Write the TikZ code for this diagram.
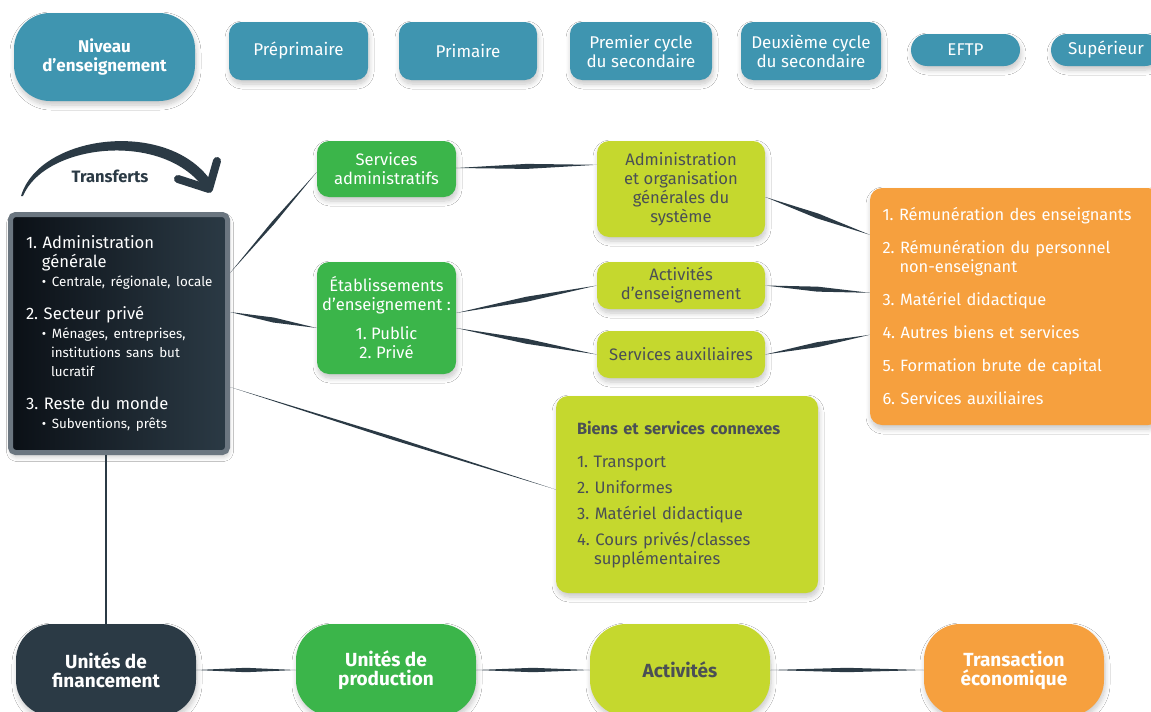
\documentclass[tikz,border=0pt]{standalone}
\usepackage{fontspec}
\setmainfont{Fira Sans}
\frenchspacing
\usetikzlibrary{calc,shadows.blur}
\definecolor{cteal}{HTML}{3F95B0}
\definecolor{cgreen}{HTML}{3BB54A}
\definecolor{clime}{HTML}{C5D82E}
\definecolor{corange}{HTML}{F6A03E}
\definecolor{cdark}{HTML}{2B3A45}
\definecolor{cdeep}{HTML}{0B1016}
\definecolor{cgray}{HTML}{6B7680}
\definecolor{ctext}{HTML}{4A4F55}
\newcommand{\fsreg}{\fontsize{16.6}{19}\selectfont}
\newcommand{\fssmall}{\fontsize{13.4}{19}\selectfont}
\tikzset{
  shad/.style={blur shadow={shadow xshift=1pt,shadow yshift=-4pt,shadow opacity=22,shadow blur steps=8,shadow blur radius=5pt}},
  basebox/.style={shad,rounded corners=12pt,align=center,inner sep=0pt},
  topbox/.style={basebox,fill=cteal,text=white,font=\fontsize{17}{19}\selectfont},
  greenbox/.style={basebox,fill=cgreen,text=white,font=\fsreg},
  limebox/.style={basebox,fill=clime,text=ctext,font=\fsreg},
  bottombox/.style={basebox,rounded corners=36pt,minimum width=180pt,minimum height=92pt,font=\bfseries\fontsize{19}{19}\selectfont},
  taper/.style={to path={let \p1=(\tikztostart), \p2=(\tikztotarget), \n1={atan2(\y2-\y1,\x2-\x1)} in
     -- ($(\p1)!0.5!(\p2)+(\n1+90:#1)$) -- (\p2) -- ($(\p1)!0.5!(\p2)+(\n1-90:#1)$) -- cycle}},
  conn/.style={fill=cdark},
}
\begin{document}
\begin{tikzpicture}[x=1pt,y=-1pt]
\useasboundingbox[fill=white] (0,0) rectangle (1151,712);

% top row
\node[topbox,rounded corners=36pt,minimum width=181pt,minimum height=88pt,font=\bfseries\fontsize{17}{19}\selectfont] (niv) at (104.5,57) {Niveau\\d’enseignement};
\node[topbox,minimum width=139pt,minimum height=58pt] (pre) at (298.5,51) {Préprimaire};
\node[topbox,minimum width=138pt,minimum height=58pt] (prim) at (468,51) {Primaire};
\node[topbox,minimum width=142pt,minimum height=58pt] (pc) at (641,51) {Premier cycle\\du secondaire};
\node[topbox,minimum width=140pt,minimum height=58pt] (dc) at (811,51) {Deuxième cycle\\du secondaire};
\node[topbox,rounded corners=16pt,minimum width=109pt,minimum height=32pt] (eftp) at (965.5,50) {EFTP};
\node[topbox,rounded corners=16pt,minimum width=110pt,minimum height=32pt] (sup) at (1106,50) {Supérieur};

% transferts arrow
\fill[cdark] (21,196) .. controls (40,133) and (172,118) .. (213,184) -- (206,191)
  .. controls (166,130) and (45,143) .. (23,196) -- cycle;
\draw[cdark,line width=8pt,line cap=round,line join=round] (178,179) -- (209,189) -- (217,161);
\node[text=cdark,font=\bfseries\fontsize{16.5}{17}\selectfont] (transf) at (110,176) {Transferts};

% dark box
\node[shad,draw=cgray,line width=5pt,rounded corners=5pt,left color=cdeep,right color=cdark,
  minimum width=217pt,minimum height=238pt,inner sep=0pt,text width=186pt,align=left,text=white,
  font=\fsreg] (box) at (119,333.5) {%
1. Administration\\
\hspace*{16pt}générale\\
{\fssmall\hspace*{16pt}\mbox{• Centrale, régionale, locale}}\\[14pt]
2. Secteur privé\\
{\fssmall\hspace*{16pt}\mbox{• Ménages, entreprises,}}\\
{\fssmall\hspace*{25pt}\mbox{institutions sans but}}\\
{\fssmall\hspace*{25pt}lucratif}\\[14pt]
3. Reste du monde\\
{\fssmall\hspace*{16pt}\mbox{• Subventions, prêts}}};

% green
\node[greenbox,minimum width=139pt,minimum height=56pt] (sadm) at (386.5,169) {Services\\administratifs};
\node[greenbox,minimum width=139pt,minimum height=112pt] (etab) at (386.5,318) {Établissements\\d’enseignement :\\[10pt]1. Public\\2. Privé};

% lime
\node[limebox,minimum width=168pt,minimum height=96pt] (admin) at (681,189) {Administration\\et organisation\\générales du\\système};
\node[limebox,minimum width=168pt,minimum height=47pt] (actens) at (681,285.5) {Activités\\d{\char"0027}enseignement};
\node[limebox,minimum width=168pt,minimum height=47pt] (saux) at (681,354.5) {Services auxiliaires};
\node[limebox,minimum width=262pt,minimum height=197pt,text width=220pt,align=left] (biens) at (687,494.5) {%
{\bfseries\fontsize{16.3}{19}\selectfont Biens et services connexes}\\[14pt]
1. Transport\\[7pt]
2. Uniformes\\[7pt]
3. Matériel didactique\\[7pt]
4. Cours privés/classes\\
\hspace*{17pt}supplémentaires};

% orange
\node[basebox,fill=corange,text=white,minimum width=290pt,minimum height=237pt,text width=265pt,align=left,
  font=\fontsize{16.4}{19}\selectfont] (orange) at (1015,306.5) {%
1. Rémunération des enseignants\\[14pt]
2. Rémunération du personnel\\
\hspace*{17pt}non-enseignant\\[14pt]
3. Matériel didactique\\[14pt]
4. Autres biens et services\\[14pt]
5. Formation brute de capital\\[14pt]
6. Services auxiliaires};

% bottom row
\node[bottombox,fill=cdark,text=white] (fin) at (106,670) {Unités de\\financement};
\node[bottombox,fill=cgreen,text=white] (prod) at (386,670) {Unités de\\production};
\node[bottombox,fill=clime,text=ctext] (act) at (680,670) {Activités};
\node[bottombox,fill=corange,text=white] (trans) at (1014,670) {Transaction\\économique};

% connectors
\fill[conn] ($(box.north east)+(0,61)$) to[taper=1.6pt] ($(sadm.west)+(0,3)$);
\fill[conn] ($(box.north east)+(0,100)$) to[taper=2.5pt] ($(etab.west)+(0,10)$);
\fill[conn] ($(box.north east)+(0,175)$) to[taper=1.6pt] ($(biens.west)+(0,-5)$);
\fill[conn] ($(sadm.east)+(0,-1)$) to[taper=2.5pt] ($(admin.north west)+(0,24)$);
\fill[conn] ($(etab.east)+(0,-5)$) to[taper=2.5pt] (actens.west);
\fill[conn] ($(etab.east)+(0,10)$) to[taper=2.5pt] (saux.west);
\fill[conn] ($(admin.east)+(0,8)$) to[taper=2.5pt] ($(orange.north west)+(0,47)$);
\fill[conn] (actens.east) to[taper=2.5pt] ($(orange.north west)+(0,105)$);
\fill[conn] (saux.east) to[taper=2.5pt] ($(orange.north west)+(0,147)$);
\draw[cdark,line width=1.8pt] (fin.north |- box.south) -- (fin.north);
\fill[conn] (fin.east) to[taper=2.2pt] (prod.west);
\fill[conn] (prod.east) to[taper=2.2pt] (act.west);
\fill[conn] (act.east) to[taper=2.2pt] (trans.west);
\end{tikzpicture}
\end{document}
